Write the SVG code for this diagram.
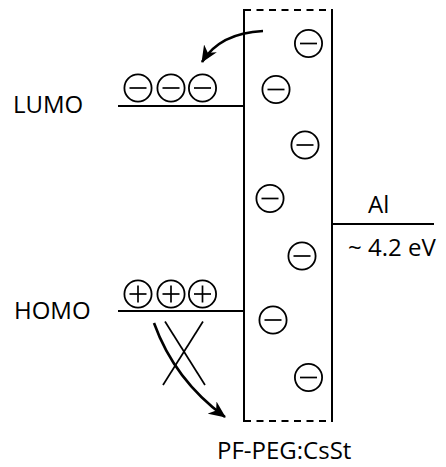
<svg xmlns="http://www.w3.org/2000/svg" width="446" height="467" viewBox="0 0 446 467">
<defs>
<style>
.ln{stroke:#000;stroke-width:2;fill:none}
.arr{stroke:#000;stroke-width:2.6;fill:none}
.thin{stroke:#000;stroke-width:1.7;fill:none}
.dash{stroke:#000;stroke-width:2;fill:none;stroke-dasharray:7 5.5}
.q{stroke:#000;stroke-width:1.8;fill:#fff}
.t{font-family:"Open Sans","Liberation Sans",sans-serif;font-size:24px;fill:#000}
</style>
<marker id="ah" markerUnits="userSpaceOnUse" markerWidth="18" markerHeight="16" refX="16" refY="8" orient="auto">
<path d="M0,0.5 L17,8 L0,15.5 L5,8 Z" fill="#000"/>
</marker>
<g id="neg"><circle class="q" r="13.6"/><line class="thin" x1="-8.5" y1="0" x2="8.5" y2="0"/></g>
<g id="pos"><circle class="q" r="13.6"/><line class="thin" x1="-8.5" y1="0" x2="8.5" y2="0"/><line class="thin" x1="0" y1="-8.5" x2="0" y2="8.5"/></g>
</defs>
<rect width="446" height="467" fill="#fff"/>
<g id="layer">
<line class="ln" x1="244" y1="9" x2="244" y2="422"/>
<line class="ln" x1="332" y1="9" x2="332" y2="422"/>
<line class="dash" x1="244" y1="10" x2="332" y2="10"/>
<line class="dash" x1="244" y1="421" x2="332" y2="421"/>
<text class="t" x="217" y="459">PF-PEG:CsSt</text>
</g>
<g id="lumo">
<line class="ln" x1="118" y1="106" x2="244" y2="106"/>
<text class="t" x="13" y="113">LUMO</text>
<use href="#neg" x="138" y="88"/>
<use href="#neg" x="171" y="88"/>
<use href="#neg" x="202.5" y="88"/>
</g>
<g id="homo">
<line class="ln" x1="118" y1="311" x2="244" y2="311"/>
<text class="t" x="14" y="319">HOMO</text>
<use href="#pos" x="138" y="294"/>
<use href="#pos" x="171" y="294"/>
<use href="#pos" x="202.5" y="294"/>
</g>
<g id="al">
<line class="ln" x1="332" y1="224" x2="434" y2="224"/>
<text class="t" x="368" y="213">Al</text>
<text class="t" x="348" y="256">~ 4.2 eV</text>
</g>
<g id="charges">
<use href="#neg" x="308.5" y="43.5"/>
<use href="#neg" x="276" y="89.5"/>
<use href="#neg" x="305" y="145"/>
<use href="#neg" x="270" y="198.5"/>
<use href="#neg" x="302" y="256"/>
<use href="#neg" x="273" y="320"/>
<use href="#neg" x="308.5" y="377.5"/>
</g>
<g id="connectors">
<path class="arr" d="M263,31 Q220,33 202,62" marker-end="url(#ah)"/>
<path class="arr" d="M154,323 Q174.5,380 225,417" marker-end="url(#ah)"/>
<line class="thin" x1="165" y1="321.5" x2="205" y2="385"/>
<line class="thin" x1="203" y1="321.5" x2="163" y2="385"/>
</g>
</svg>
